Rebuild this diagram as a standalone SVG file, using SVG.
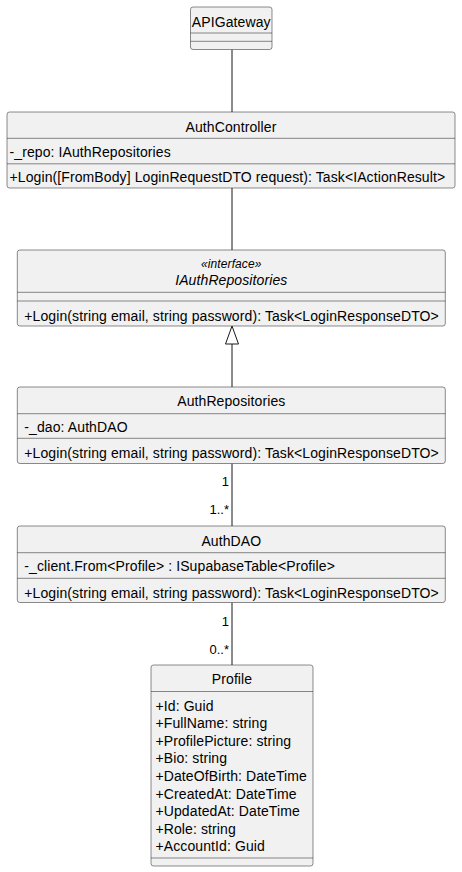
<svg xmlns="http://www.w3.org/2000/svg" width="462" height="872" viewBox="0 0 462 872">
<style>
.box{fill:#F1F1F1;stroke:#181818;stroke-width:0.5}
.div{stroke:#181818;stroke-width:0.5}
.t{font-family:"Liberation Sans",Arial,sans-serif;font-size:14px;fill:#000000;letter-spacing:0.1px}
.c{text-anchor:middle}
.i{font-style:italic}
.s{font-size:12px}
.m{font-family:"Liberation Sans",Arial,sans-serif;font-size:13px;fill:#000000;text-anchor:end}
.ln{stroke:#181818;stroke-width:1;fill:none}
</style>
<rect width="462" height="872" fill="#FFFFFF"/>
<g id="connectors">
<line class="ln" x1="232" y1="49.5" x2="232" y2="112"/>
<line class="ln" x1="232" y1="188" x2="232" y2="250"/>
<line class="ln" x1="232" y1="344" x2="232" y2="387"/>
<polygon points="232,326 225.5,344 238.5,344" fill="#FFFFFF" stroke="#181818" stroke-width="1"/>
<line class="ln" x1="232" y1="463.5" x2="232" y2="526"/>
<text class="m" x="229" y="486">1</text>
<text class="m" x="229" y="514">1..*</text>
<line class="ln" x1="232" y1="602.5" x2="232" y2="665"/>
<text class="m" x="229" y="626">1</text>
<text class="m" x="229" y="654">0..*</text>
</g>
<g id="APIGateway">
<rect class="box" x="190.5" y="7" width="81.5" height="42.5" rx="2.5"/>
<text class="t c" x="231.25" y="26.5">APIGateway</text>
<line class="div" x1="190.5" y1="33" x2="272" y2="33"/>
<line class="div" x1="190.5" y1="41.3" x2="272" y2="41.3"/>
</g>
<g id="AuthController">
<rect class="box" x="7" y="112" width="448" height="76" rx="2.5"/>
<text class="t c" x="231" y="131.5">AuthController</text>
<line class="div" x1="7" y1="138.3" x2="455" y2="138.3"/>
<text class="t" x="9.5" y="156.5">-_repo: IAuthRepositories</text>
<line class="div" x1="7" y1="163.8" x2="455" y2="163.8"/>
<text class="t" x="9.5" y="181.5">+Login([FromBody] LoginRequestDTO request): Task&lt;IActionResult&gt;</text>
</g>
<g id="IAuthRepositories">
<rect class="box" x="17.3" y="250" width="428" height="76" rx="2.5"/>
<text class="t c i s" x="231.3" y="267.5">«interface»</text>
<text class="t c i" x="231.3" y="284.5">IAuthRepositories</text>
<line class="div" x1="17.3" y1="292.3" x2="445.3" y2="292.3"/>
<line class="div" x1="17.3" y1="301" x2="445.3" y2="301"/>
<text class="t" x="24.3" y="320.5">+Login(string email, string password): Task&lt;LoginResponseDTO&gt;</text>
</g>
<g id="AuthRepositories">
<rect class="box" x="17.3" y="387" width="428" height="76.5" rx="2.5"/>
<text class="t c" x="231.3" y="406">AuthRepositories</text>
<line class="div" x1="17.3" y1="413.7" x2="445.3" y2="413.7"/>
<text class="t" x="24.3" y="432">-_dao: AuthDAO</text>
<line class="div" x1="17.3" y1="438.3" x2="445.3" y2="438.3"/>
<text class="t" x="24.3" y="458">+Login(string email, string password): Task&lt;LoginResponseDTO&gt;</text>
</g>
<g id="AuthDAO">
<rect class="box" x="17.3" y="526" width="428" height="76.5" rx="2.5"/>
<text class="t c" x="231.3" y="545.5">AuthDAO</text>
<line class="div" x1="17.3" y1="552.7" x2="445.3" y2="552.7"/>
<text class="t" x="24.3" y="571">-_client.From&lt;Profile&gt; : ISupabaseTable&lt;Profile&gt;</text>
<line class="div" x1="17.3" y1="578.3" x2="445.3" y2="578.3"/>
<text class="t" x="24.3" y="597.5">+Login(string email, string password): Task&lt;LoginResponseDTO&gt;</text>
</g>
<g id="Profile">
<rect class="box" x="151" y="665" width="162" height="201" rx="2.5"/>
<text class="t c" x="232" y="684">Profile</text>
<line class="div" x1="151" y1="691.5" x2="313" y2="691.5"/>
<text class="t" x="155.5" y="710.5">+Id: Guid</text>
<text class="t" x="155.5" y="728.1">+FullName: string</text>
<text class="t" x="155.5" y="745.7">+ProfilePicture: string</text>
<text class="t" x="155.5" y="763.3">+Bio: string</text>
<text class="t" x="155.5" y="780.9">+DateOfBirth: DateTime</text>
<text class="t" x="155.5" y="798.5">+CreatedAt: DateTime</text>
<text class="t" x="155.5" y="816.1">+UpdatedAt: DateTime</text>
<text class="t" x="155.5" y="833.7">+Role: string</text>
<text class="t" x="155.5" y="851.3">+AccountId: Guid</text>
<line class="div" x1="151" y1="858" x2="313" y2="858"/>
</g>
</svg>
